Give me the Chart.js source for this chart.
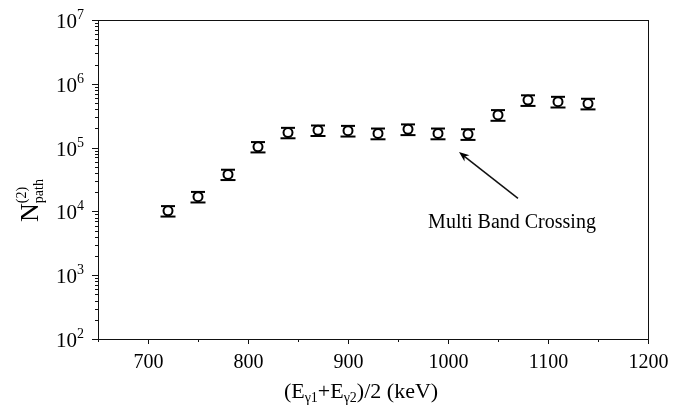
<!DOCTYPE html>
<html>
<head>
<meta charset="utf-8">
<script src="https://cdn.jsdelivr.net/npm/chart.js@4.4.1/dist/chart.umd.min.js"></script>
<style>
html, body { margin: 0; padding: 0; background: #fff; }
#wrap { width: 699px; height: 410px; }
</style>
</head>
<body>
<div id="wrap"><canvas id="c" width="699" height="410"></canvas></div>
<script>
// ── Data ───────────────────────────────────────────────────────
const energies = [720, 750, 780, 810, 840, 870, 900, 930, 960, 990, 1020, 1050, 1080, 1110, 1140];
const nPath    = [1.02e4, 1.7e4, 3.8e4, 1.03e5, 1.72e5, 1.87e5, 1.84e5, 1.67e5, 1.94e5, 1.67e5, 1.63e5, 3.25e5, 5.55e5, 5.25e5, 4.9e5];
const nPathErr = [1.9e3, 3.2e3, 7.0e3, 1.9e4, 3.2e4, 3.5e4, 3.5e4, 3.2e4, 3.7e4, 3.2e4, 3.1e4, 6.2e4, 1.05e5, 1.0e5, 9.3e4];
const xTicks   = [700, 800, 900, 1000, 1100, 1200];
const xMinor   = [650, 750, 850, 950, 1050, 1150];
const yDecades = [1e2, 1e3, 1e4, 1e5, 1e6, 1e7];

const noteText  = 'Multi Band Crossing';
const noteAt    = [1064, 6.7e3];   // text centre (keV, N)
const arrowFrom = [1070, 1.6e4];
const arrowTo   = [1011, 8.5e4];

const SERIF = '"Liberation Serif", "Times New Roman", Times, serif';

// ── Helpers ────────────────────────────────────────────────────
function line(ctx, x1, y1, x2, y2) {
    ctx.beginPath(); ctx.moveTo(x1, y1); ctx.lineTo(x2, y2); ctx.stroke();
}

// draws runs of [text, size, dy] left to right, returns total width
function runs(ctx, parts, x, y, measureOnly) {
    let w = 0;
    parts.forEach(([t, size, dy]) => {
        ctx.font = size + 'px ' + SERIF;
        if (!measureOnly) ctx.fillText(t, x + w, y + dy);
        w += ctx.measureText(t).width;
    });
    return w;
}

// ── Error bars (under the markers) ─────────────────────────────
const errorBars = {
    id: 'errorBars',
    beforeDatasetsDraw(chart) {
        const { ctx, scales: { x, y } } = chart;
        ctx.save();
        ctx.strokeStyle = '#000';
        ctx.lineWidth = 2;
        energies.forEach((e, i) => {
            const px = x.getPixelForValue(e);
            const top = y.getPixelForValue(nPath[i] + nPathErr[i]);
            const bot = y.getPixelForValue(nPath[i] - nPathErr[i]);
            line(ctx, px, top, px, bot);
            line(ctx, px - 7, top, px + 7, top);
            line(ctx, px - 7.5, bot, px + 7.5, bot);
        });
        ctx.restore();
    }
};

// ── Frame, ticks, labels, note ─────────────────────────────────
const frame = {
    id: 'frame',
    afterDraw(chart) {
        const { ctx, chartArea: a, scales: { x, y } } = chart;
        ctx.save();
        ctx.strokeStyle = '#111';
        ctx.fillStyle = '#000';
        ctx.lineWidth = 1;
        ctx.strokeRect(a.left + 0.5, a.top + 0.5, a.width, a.height);

        // y ticks
        yDecades.forEach((d, i) => {
            const py = Math.round(y.getPixelForValue(d)) + 0.5;
            line(ctx, a.left - 6, py, a.left, py);
            if (i < yDecades.length - 1) {
                for (let k = 2; k <= 9; k++) {
                    const my = Math.round(y.getPixelForValue(k * d)) + 0.5;
                    line(ctx, a.left - 3, my, a.left, my);
                }
            }
            ctx.textBaseline = 'alphabetic';
            ctx.font = '21px ' + SERIF;
            ctx.textAlign = 'right';
            ctx.fillText('10', 77, py + 7);
            ctx.font = '14px ' + SERIF;
            ctx.textAlign = 'left';
            ctx.fillText(String(Math.round(Math.log10(d))), 77, py - 2);
        });

        // x ticks
        ctx.textAlign = 'center';
        ctx.font = '20px ' + SERIF;
        xTicks.forEach(v => {
            const px = Math.round(x.getPixelForValue(v)) + 0.5;
            line(ctx, px, a.bottom, px, a.bottom + 5);
            ctx.fillText(String(v), px, 368);
        });
        xMinor.forEach(v => {
            const px = Math.round(x.getPixelForValue(v)) + 0.5;
            line(ctx, px, a.bottom, px, a.bottom + 3);
        });

        // x title: (Eγ1+Eγ2)/2 (keV)
        ctx.textAlign = 'left';
        const xt = [['(E', 22, 0], ['γ1', 14, 4], ['+E', 22, 0], ['γ2', 14, 4], [')/2 (keV)', 22, 0]];
        const tw = runs(ctx, xt, 0, 0, true);
        runs(ctx, xt, 361 - tw / 2, 398);

        // y title: N(2)path, rotated
        ctx.save();
        ctx.translate(38, 222);
        ctx.rotate(-Math.PI / 2);
        ctx.font = '26px ' + SERIF;
        ctx.fillText('N', 0, 0);
        const nw = ctx.measureText('N').width;
        ctx.font = '14px ' + SERIF;
        ctx.fillText('path', nw, 5);
        ctx.fillText('(2)', nw, -12);
        ctx.restore();

        // note + arrow
        ctx.textAlign = 'center';
        ctx.textBaseline = 'middle';
        ctx.font = '20px ' + SERIF;
        ctx.fillText(noteText, x.getPixelForValue(noteAt[0]), y.getPixelForValue(noteAt[1]));

        const x1 = x.getPixelForValue(arrowFrom[0]), y1 = y.getPixelForValue(arrowFrom[1]);
        const x2 = x.getPixelForValue(arrowTo[0]),   y2 = y.getPixelForValue(arrowTo[1]);
        const ang = Math.atan2(y2 - y1, x2 - x1);
        ctx.lineWidth = 1.5;
        line(ctx, x1, y1, x2 - 6 * Math.cos(ang), y2 - 6 * Math.sin(ang));
        ctx.beginPath();
        ctx.moveTo(x2, y2);
        ctx.lineTo(x2 - 11 * Math.cos(ang - 0.38), y2 - 11 * Math.sin(ang - 0.38));
        ctx.lineTo(x2 - 7 * Math.cos(ang), y2 - 7 * Math.sin(ang));
        ctx.lineTo(x2 - 11 * Math.cos(ang + 0.38), y2 - 11 * Math.sin(ang + 0.38));
        ctx.closePath();
        ctx.fill();
        ctx.restore();
    }
};

new Chart(document.getElementById('c'), {
    type: 'scatter',
    data: {
        datasets: [{
            data: energies.map((e, i) => ({ x: e, y: nPath[i] })),
            pointStyle: 'circle',
            pointRadius: 4.5,
            pointHoverRadius: 4.5,
            pointBorderWidth: 2,
            borderColor: '#000',
            backgroundColor: '#fff'
        }]
    },
    options: {
        responsive: false,
        animation: false,
        events: [],
        layout: { padding: { top: 20, right: 51, left: 0, bottom: 0 } },
        plugins: { legend: { display: false }, tooltip: { enabled: false } },
        scales: {
            x: {
                type: 'linear', min: 650, max: 1200,
                grid: { display: false }, border: { display: false },
                ticks: { display: false },
                afterFit(s) { s.height = 71; }
            },
            y: {
                type: 'logarithmic', min: 1e2, max: 1e7,
                grid: { display: false }, border: { display: false },
                ticks: { display: false },
                afterFit(s) { s.width = 98; }
            }
        }
    },
    plugins: [errorBars, frame]
});
</script>
</body>
</html>
